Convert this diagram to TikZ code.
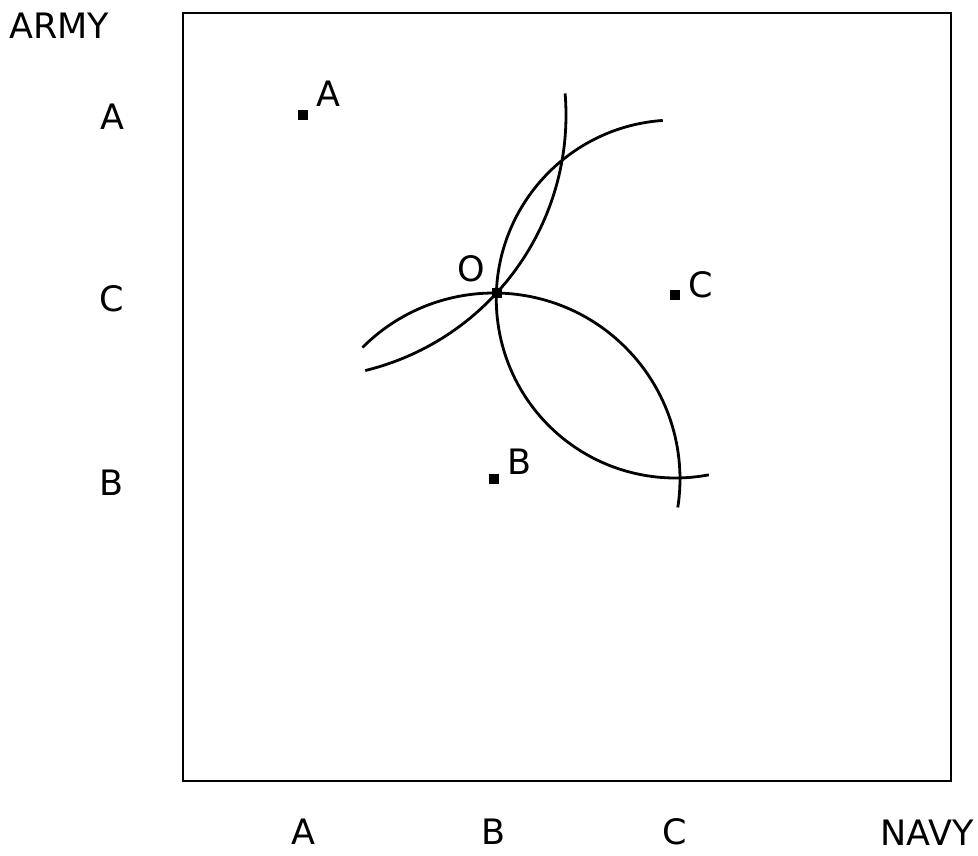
\documentclass[tikz,border=0pt]{standalone}
\usepackage{fontspec}
\setmainfont{DejaVu Sans}
\begin{document}
\begin{tikzpicture}[x=1pt,y=-1pt,
  lbl/.style={font=\fontsize{35}{40}\selectfont, inner sep=0pt, anchor=base},
  pt/.style={fill=black, minimum size=10pt, inner sep=0pt},
  curve/.style={line width=2.8pt}]
\useasboundingbox (0,0) rectangle (978,855);
\draw[line width=2pt] (183,13) rectangle (951,781);
% points
\node[pt] (A) at (303,115) {};
\node[pt] (B) at (494,479) {};
\node[pt] (C) at (675,295) {};
\node[pt] (O) at (497,293) {};
% arcs: circles centred at A, B, C through O
\draw[curve] (A.center) ++(-4.7:263) arc[start angle=-4.7, end angle=76.3, radius=263];
\draw[curve] (B.center) ++(-135:186) arc[start angle=-135, end angle=8.8, radius=186];
\draw[curve] (C.center) ++(266:175) arc[start angle=266, end angle=79.2, radius=179];
% point labels
\node[lbl] (lA) at (328,106) {A};
\node[lbl] (lO) at (471,281) {O};
\node[lbl] (lC) at (701,297) {C};
\node[lbl] (lB) at (520,474) {B};
% axis labels
\node[lbl] (army) at (59,38) {ARMY};
\node[lbl] (ya) at (112,129) {A};
\node[lbl] (yc) at (112,311) {C};
\node[lbl] (yb) at (112,495) {B};
\node[lbl] (xa) at (303,844) {A};
\node[lbl] (xb) at (494,844) {B};
\node[lbl] (xc) at (675,844) {C};
\node[lbl] (navy) at (927,845) {NAVY};
\end{tikzpicture}
\end{document}
